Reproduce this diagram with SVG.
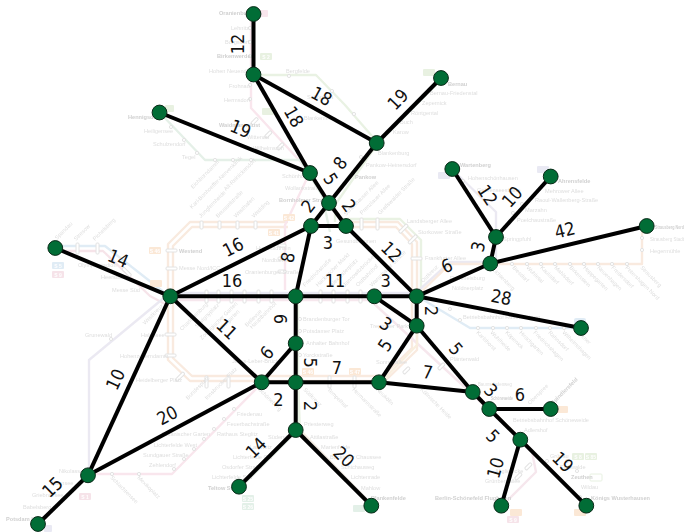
<svg xmlns="http://www.w3.org/2000/svg" width="685" height="532" viewBox="0 0 685 532">
<defs><filter id="soft" x="0" y="0" width="100%" height="100%"><feGaussianBlur stdDeviation="0.35"/></filter></defs>
<style>
.l{font-family:"DejaVu Sans Condensed","DejaVu Sans",sans-serif;font-stretch:condensed;font-size:18px;fill:#111;text-anchor:middle;dominant-baseline:central}
.e{stroke:#000;stroke-width:4;fill:none}
.n{fill:#016d36;stroke:#0a2a18;stroke-width:1}
.m{fill:none;stroke-width:2.4;stroke-linejoin:round}
.s{font-family:"Liberation Sans Narrow","Liberation Sans",sans-serif;font-stretch:condensed;font-size:5.600px;fill:#d8d8d8}
.b{font-family:"Liberation Sans Narrow","Liberation Sans",sans-serif;font-stretch:condensed;font-size:5.600px;fill:#c8c8c8;font-weight:bold}
.t{fill:#fff;stroke:#dedede;stroke-width:1}
.c{fill:#fff;stroke:#dedede;stroke-width:1}
.g{font-family:"Liberation Sans",sans-serif;font-size:5px;font-weight:bold;fill:#fff;text-anchor:middle}
</style>
<g id="map" filter="url(#soft)" opacity="0.85">
<path class="m" stroke="#f8e7da" d="M288 222H190L168 244V360L190 381H385L417 350V242L398 222H346"/>
<path class="m" stroke="#f8e7da" d="M288 227H192L173 246V358L192 376H383L412 348V244L396 227H346"/>
<path class="m" stroke="#e6f0df" d="M347 219H400L421 240V300"/>
<path class="m" stroke="#e6e6f2" d="M170 293H417"/>
<path class="m" stroke="#f5e3ea" d="M170 300H370L470 392L500 420L532 452L536 472L505 503"/>
<path class="m" stroke="#f8ecd9" d="M417 300V345L385 378M375 296H417M470 388L586 505"/>
<path class="m" stroke="#dbe9f4" d="M58 246H105L165 293M417 296L470 328H581"/>
<path class="m" stroke="#f5e0e6" d="M58 251H103L150 296L165 304"/>
<path class="m" stroke="#e8e6f0" d="M165 297L89 360V472M417 292L450 262H496V212L455 172M496 236L551 178"/>
<path class="m" stroke="#f8e7da" d="M417 296L450 264H642V226"/>
<path class="m" stroke="#f8e2ea" d="M251 14V108L310 172L285 225V290M88 474H172L260 385"/>
<path class="m" stroke="#e1eee4" d="M162 115L205 160H300L322 195L330 232M298 300V430L240 488"/>
<path class="m" stroke="#e6f0df" d="M255 75H316L345 105L378 143L335 205V222M298 296V380L300 432L372 505"/>
<path class="m" stroke="#dfeee4" d="M441 80L378 143"/>
<path class="m" stroke="#f2eadf" d="M300 430L372 505"/>
<g>
<circle class="c" cx="250" cy="28" r="1.600"/><circle class="c" cx="250" cy="42" r="1.600"/><circle class="c" cx="250" cy="56" r="1.600"/><circle class="c" cx="250" cy="85" r="1.600"/><circle class="c" cx="250" cy="99" r="1.600"/><circle class="c" cx="289" cy="76" r="1.600"/><circle class="c" cx="332" cy="91" r="1.600"/><circle class="c" cx="171" cy="127" r="1.600"/><circle class="c" cx="184" cy="140" r="1.600"/><circle class="c" cx="197" cy="153" r="1.600"/><circle class="c" cx="215" cy="160" r="1.600"/><circle class="c" cx="233" cy="160" r="1.600"/><circle class="c" cx="251" cy="160" r="1.600"/><circle class="c" cx="354" cy="114" r="1.600"/><circle class="c" cx="361" cy="157" r="1.600"/>
<circle class="c" cx="463" cy="181" r="1.600"/><circle class="c" cx="513" cy="213" r="1.600"/><circle class="c" cx="522" cy="204" r="1.600"/>
<circle class="c" cx="512" cy="264" r="1.600"/><circle class="c" cx="527" cy="264" r="1.600"/><circle class="c" cx="541" cy="264" r="1.600"/><circle class="c" cx="555" cy="264" r="1.600"/><circle class="c" cx="570" cy="264" r="1.600"/><circle class="c" cx="584" cy="264" r="1.600"/><circle class="c" cx="598" cy="264" r="1.600"/><circle class="c" cx="612" cy="264" r="1.600"/><circle class="c" cx="627" cy="264" r="1.600"/><circle class="c" cx="642" cy="238" r="1.600"/><circle class="c" cx="642" cy="250" r="1.600"/>
<circle class="c" cx="450" cy="309" r="1.600"/><circle class="c" cx="460" cy="320" r="1.600"/><circle class="c" cx="478" cy="328" r="1.600"/><circle class="c" cx="493" cy="328" r="1.600"/><circle class="c" cx="507" cy="328" r="1.600"/><circle class="c" cx="521" cy="328" r="1.600"/><circle class="c" cx="536" cy="328" r="1.600"/><circle class="c" cx="550" cy="328" r="1.600"/><circle class="c" cx="564" cy="328" r="1.600"/>
<circle class="c" cx="111" cy="339" r="1.600"/><circle class="c" cx="112" cy="474" r="1.600"/><circle class="c" cx="139" cy="474" r="1.600"/><circle class="c" cx="174" cy="469" r="1.600"/><circle class="c" cx="184" cy="459" r="1.600"/><circle class="c" cx="194" cy="449" r="1.600"/><circle class="c" cx="204" cy="439" r="1.600"/><circle class="c" cx="214" cy="429" r="1.600"/><circle class="c" cx="224" cy="419" r="1.600"/><circle class="c" cx="234" cy="409" r="1.600"/>
<circle class="c" cx="567" cy="461" r="1.600"/><circle class="c" cx="547" cy="461" r="1.600"/><circle class="c" cx="577" cy="471" r="1.600"/><circle class="c" cx="580" cy="497" r="1.600"/>
<circle class="c" cx="300" cy="319" r="1.600"/><circle class="c" cx="300" cy="331" r="1.600"/><circle class="c" cx="300" cy="355" r="1.600"/>
<rect class="t" x="200" y="221" width="3" height="8" rx="1"/><rect class="t" x="218" y="221" width="3" height="8" rx="1"/><rect class="t" x="236" y="221" width="3" height="8" rx="1"/><rect class="t" x="254" y="221" width="3" height="8" rx="1"/>
<rect class="t" x="376" y="218" width="3" height="12" rx="1"/><rect class="t" x="360" y="218" width="3" height="12" rx="1"/><rect class="t" x="166" y="249" width="11" height="3" rx="1"/><rect class="t" x="166" y="267" width="11" height="3" rx="1"/><rect class="t" x="165" y="333" width="11" height="3" rx="1"/><rect class="t" x="165" y="354" width="11" height="3" rx="1"/>
<rect class="t" x="179" y="371" width="3" height="11" rx="1" transform="rotate(45 180 376)"/><rect class="t" x="205" y="376" width="3" height="12" rx="1"/><rect class="t" x="227" y="376" width="3" height="12" rx="1"/><rect class="t" x="353" y="376" width="3" height="12" rx="1"/><rect class="t" x="328" y="376" width="3" height="12" rx="1"/>
<rect class="t" x="402" y="222" width="3" height="11" rx="1" transform="rotate(45 402 228)"/><rect class="t" x="412" y="233" width="3" height="11" rx="1" transform="rotate(45 412 238)"/><rect class="t" x="411" y="257" width="11" height="3" rx="1"/>
<rect class="t" x="205" y="290" width="3" height="13" rx="1"/><rect class="t" x="217" y="290" width="3" height="13" rx="1"/><rect class="t" x="230" y="290" width="3" height="13" rx="1"/><rect class="t" x="243" y="290" width="3" height="13" rx="1"/><rect class="t" x="257" y="290" width="3" height="13" rx="1"/><rect class="t" x="270" y="290" width="3" height="13" rx="1"/><rect class="t" x="319" y="290" width="3" height="13" rx="1"/><rect class="t" x="332" y="290" width="3" height="13" rx="1"/><rect class="t" x="346" y="290" width="3" height="13" rx="1"/><rect class="t" x="359" y="290" width="3" height="13" rx="1"/>
<rect class="t" x="76" y="243" width="3" height="11" rx="1"/><rect class="t" x="96" y="243" width="3" height="11" rx="1"/><rect class="t" x="125" y="267" width="3" height="11" rx="1" transform="rotate(-45 126 272)"/>
<rect class="t" x="278" y="244" width="8" height="3" rx="1"/><rect class="t" x="278" y="257" width="8" height="3" rx="1"/><rect class="t" x="278" y="270" width="8" height="3" rx="1"/>
<rect class="t" x="254" y="117" width="3" height="8" rx="1" transform="rotate(45 255 120)"/><rect class="t" x="267" y="130" width="3" height="8" rx="1" transform="rotate(45 268 134)"/><rect class="t" x="279" y="142" width="3" height="8" rx="1" transform="rotate(45 280 146)"/>
<rect class="t" x="405" y="366" width="3" height="8" rx="1" transform="rotate(45 406 370)"/><rect class="t" x="440" y="362" width="3" height="8" rx="1" transform="rotate(45 441 366)"/>
<rect class="t" x="517" y="472" width="3" height="8" rx="1" transform="rotate(45 518 476)"/><rect class="t" x="527" y="462" width="3" height="8" rx="1" transform="rotate(45 528 466)"/>
</g>
<g>
<rect x="260" y="10" width="8" height="7" rx="1" fill="#f8e2ea"/>
<g fill="#e4efdc"><rect x="260" y="53" width="12" height="7" rx="1"/><rect x="262" y="108" width="12" height="7" rx="1"/><rect x="165" y="105" width="9" height="7" rx="1"/><rect x="423" y="69" width="12" height="7" rx="1"/></g>
<g fill="#fbe4d0"><rect x="149" y="247" width="12" height="7" rx="1"/><rect x="283" y="214" width="12" height="7" rx="1"/><rect x="268" y="229" width="12" height="7" rx="1"/><rect x="150" y="280" width="12" height="7" rx="1"/><rect x="302" y="368" width="12" height="7" rx="1"/><rect x="349" y="368" width="12" height="7" rx="1"/><rect x="556" y="406" width="12" height="7" rx="1"/><rect x="510" y="509" width="12" height="7" rx="1"/><rect x="574" y="509" width="12" height="7" rx="1"/></g>
<rect x="52" y="262" width="12" height="7" rx="1" fill="#dbe9f4"/>
<rect x="52" y="271" width="12" height="7" rx="1" fill="#f5dfe6"/>
<g fill="#e6e6f2"><rect x="438" y="172" width="12" height="7" rx="1"/><rect x="537" y="166" width="12" height="7" rx="1"/><rect x="44" y="525" width="8" height="7" rx="1"/></g>
<rect x="79" y="493" width="12" height="7" rx="1" fill="#f5dfe6"/>
<rect x="507" y="516" width="12" height="7" rx="1" fill="#f5dfe6"/>
<g fill="#dfeee4"><rect x="242" y="495" width="12" height="7" rx="1"/><rect x="242" y="503" width="12" height="7" rx="1"/><rect x="353" y="505" width="12" height="7" rx="1"/></g>
<g fill="#e4efdc"><rect x="572" y="453" width="12" height="7" rx="1"/><rect x="585" y="453" width="12" height="7" rx="1"/></g>
<rect x="590" y="474" width="12" height="7" rx="1" fill="#fff" stroke="#e4efdc"/>
<rect x="574" y="318" width="12" height="10" rx="2" fill="#dbe9f4"/>
<text class="g" x="155" y="252.500">S 46</text><text class="g" x="289" y="219.500">S 42</text><text class="g" x="274" y="234.500">S 41</text><text class="g" x="266" y="58.500">S 2</text><text class="g" x="58" y="267.500">S 5</text><text class="g" x="58" y="276.500">S 9</text><text class="g" x="85" y="498.500">S 1</text><text class="g" x="248" y="500.500">S 25</text><text class="g" x="248" y="508.500">S 26</text><text class="g" x="308" y="373.500">S 46</text><text class="g" x="355" y="373.500">S 47</text><text class="g" x="513" y="521.500">S 9</text><text class="g" x="578" y="458.500">S 8</text><text class="g" x="591" y="458.500">S 85</text>
</g>
<g>
<text class="b" x="219" y="15">Oranienburg</text><text class="s" x="231" y="30">Lehnitz</text><text class="s" x="225" y="44">Borgsdorf</text><text class="b" x="217" y="58">Birkenwerder</text><text class="s" x="209" y="73">Hohen Neuendorf</text><text class="s" x="286" y="73">Bergfelde</text><text class="s" x="229" y="88">Frohnau</text><text class="s" x="224" y="102">Hermsdorf</text><text class="s" x="307" y="99">Schönfließ</text><text class="b" x="219" y="127">Waidmannslust</text><text class="s" x="247" y="139">Wittenau</text><text class="s" x="253" y="150">Wilhelmsruh</text><text class="b" x="128" y="119">Hennigsdorf</text><text class="s" x="144" y="133">Heiligensee</text><text class="s" x="153" y="146">Schulzendorf</text><text class="s" x="182" y="159">Tegel</text><text class="s" x="282" y="178">Schönholz</text><text class="s" x="285" y="190">Wollankstraße</text><text class="b" x="279" y="202">Bornholmer Straße</text><text class="s" x="304" y="120">Blankenfelde</text>
<text class="s" x="378" y="155">Blankenburg</text><text class="s" x="366" y="167">Pankow-Heinersdorf</text><text class="b" x="355" y="179">Pankow</text><text class="s" x="393" y="134">Karow</text><text class="s" x="400" y="124">Buch</text><text class="s" x="411" y="115">Röntgental</text><text class="s" x="422" y="105">Zepernick</text><text class="s" x="430" y="95">Bernau-Friedenstal</text><text class="b" x="448" y="86">Bernau</text>
<text class="b" x="460" y="167">Wartenberg</text><text class="s" x="468" y="180">Hohenschönhausen</text><text class="s" x="477" y="192">Gehrenseestraße</text><text class="b" x="558" y="183">Ahrensfelde</text><text class="s" x="545" y="193">Mehrower Allee</text><text class="s" x="535" y="202">Raoul-Wallenberg-Straße</text><text class="s" x="525" y="212">Marzahn</text><text class="s" x="517" y="222">Poelchaustraße</text><text class="s" x="503" y="241">Springpfuhl</text><text class="b" x="655" y="229" textLength="29" lengthAdjust="spacingAndGlyphs">Strausberg Nord</text><text class="s" x="650" y="241" textLength="34" lengthAdjust="spacingAndGlyphs">Strausberg Stadt</text><text class="s" x="650" y="253">Hegermühle</text>
<text class="s" x="407" y="223">Landsberger Allee</text><text class="s" x="418" y="234">Storkower Straße</text><text class="s" x="425" y="260">Frankfurter Allee</text><text class="s" x="450" y="280">Rummelsburg</text><text class="s" x="452" y="290">Nöldnerplatz</text><text class="s" x="463" y="319">Betriebsbahnhof Rummelsburg</text>
<text class="b" x="179" y="253">Westend</text><text class="s" x="179" y="270">Messe Nord/ICC</text><text class="s" x="112" y="292">Messe Süd</text><text class="s" x="101" y="279">Heerstraße</text><text class="s" x="78" y="267">Olympiastadion</text><text class="s" x="336" y="243">Gesundbrunnen</text><text class="s" x="256" y="250">Humboldthain</text><text class="s" x="262" y="262">Nordbahnhof</text><text class="s" x="245" y="274">Oranienburger Straße</text>
<text class="s" x="85" y="337">Grunewald</text><text class="s" x="141" y="337">Halensee</text><text class="s" x="120" y="358">Hohenzollerndamm</text><text class="s" x="136" y="382">Heidelberger Platz</text><text class="s" x="232" y="363">Julius-Leber-Brücke</text><text class="s" x="237" y="416">Friedenau</text><text class="s" x="227" y="426">Feuerbachstraße</text><text class="s" x="217" y="436">Rathaus Steglitz</text><text class="s" x="162" y="436">Botanischer Garten</text><text class="s" x="154" y="447">Lichterfelde West</text><text class="s" x="143" y="457">Sundgauer Straße</text><text class="s" x="149" y="467">Zehlendorf</text><text class="s" x="59" y="473">Nikolassee</text><text class="s" x="50" y="485">Wannsee</text><text class="s" x="32" y="497">Griebnitzsee</text><text class="s" x="23" y="509">Babelsberg</text><text class="b" x="6" y="521">Potsdam Hbf</text>
<text class="b" x="208" y="490">Teltow Stadt</text><text class="s" x="212" y="479">Lichterfelde Süd</text><text class="s" x="222" y="469">Osdorfer Straße</text><text class="s" x="233" y="459">Lichterfelde Ost</text><text class="s" x="268" y="439">Südende</text><text class="s" x="250" y="449">Lankwitz</text><text class="s" x="304" y="426">Priesterweg</text><text class="s" x="310" y="439">Attilastraße</text><text class="s" x="321" y="449">Marienfelde</text><text class="s" x="330" y="459">Buckower Chaussee</text><text class="s" x="341" y="469">Schichauweg</text><text class="s" x="351" y="479">Lichtenrade</text><text class="s" x="361" y="490">Mahlow</text><text class="b" x="371" y="500">Blankenfelde</text>
<text class="s" x="303" y="321">Brandenburger Tor</text><text class="s" x="303" y="333">Potsdamer Platz</text><text class="s" x="306" y="345">Anhalter Bahnhof</text><text class="s" x="303" y="357">Yorckstraße</text><text class="s" x="370" y="328">Treptower Park</text><text class="s" x="376" y="364">Sonnenallee</text><text class="s" x="450" y="361">Plänterwald</text><text class="s" x="478" y="386" textLength="34" lengthAdjust="spacingAndGlyphs">Baumschulenweg</text><text class="b" x="491" y="400" textLength="22" lengthAdjust="spacingAndGlyphs">Schöneweide</text><text class="s" x="513" y="422">Betriebsbahnhof Schöneweide</text><text class="s" x="524" y="432">Adlershof</text><text class="s" x="550" y="458">Grünau</text><text class="s" x="560" y="469">Eichwalde</text><text class="b" x="571" y="479">Zeuthen</text><text class="s" x="581" y="489">Wildau</text><text class="b" x="591" y="500">Königs Wusterhausen</text><text class="s" x="495" y="473">Altglienicke</text><text class="s" x="485" y="483">Grünbergallee</text><text class="b" x="435" y="500">Berlin-Schönefeld Flughafen</text>
</g>
<g>
<text class="s" transform="rotate(-45 193 189)" x="193" y="189">Eichborndamm</text><text class="s" transform="rotate(-45 192 209)" x="192" y="209">Karl-Bonhoeffer-Nervenklinik</text><text class="s" transform="rotate(-45 226 191)" x="226" y="191">Alt-Reinickendorf</text><text class="s" transform="rotate(-45 201 218)" x="201" y="218">Jungfernheide</text><text class="s" transform="rotate(-45 218 218)" x="218" y="218">Beusselstraße</text><text class="s" transform="rotate(-45 236 218)" x="236" y="218">Westhafen</text><text class="s" transform="rotate(-45 254 218)" x="254" y="218">Wedding</text>
<text class="s" transform="rotate(-45 346 216)" x="346" y="216">Schönhauser Allee</text><text class="s" transform="rotate(-45 362 215)" x="362" y="215">Prenzlauer Allee</text><text class="s" transform="rotate(-45 380 215)" x="380" y="215">Greifswalder Straße</text><text class="s" transform="rotate(-45 57 240)" x="57" y="240">Spandau</text><text class="s" transform="rotate(-45 76 241)" x="76" y="241">Stresow</text><text class="s" transform="rotate(-45 95 241)" x="95" y="241">Pichelsberg</text>
<text class="s" transform="rotate(-45 182 331)" x="182" y="331">Charlottenburg</text><text class="s" transform="rotate(-45 197 328)" x="197" y="328">Savignyplatz</text><text class="s" transform="rotate(-45 202 340)" x="202" y="340">Zoologischer Garten</text><text class="s" transform="rotate(-45 222 330)" x="222" y="330">Tiergarten</text><text class="s" transform="rotate(-45 247 327)" x="247" y="327">Bellevue</text><text class="s" transform="rotate(-45 252 329)" x="252" y="329">Hauptbahnhof</text>
<text class="s" transform="rotate(-45 305 287)" x="305" y="287">Friedrichstraße</text><text class="s" transform="rotate(-45 318 287)" x="318" y="287">Hackescher Markt</text><text class="s" transform="rotate(-45 332 287)" x="332" y="287">Alexanderplatz</text><text class="s" transform="rotate(-45 345 287)" x="345" y="287">Jannowitzbrücke</text><text class="s" transform="rotate(-45 358 287)" x="358" y="287">Ostbahnhof</text><text class="s" transform="rotate(-45 372 287)" x="372" y="287">Warschauer Straße</text><text class="s" transform="rotate(-45 423 283)" x="423" y="283">Ostkreuz</text><text class="s" transform="rotate(-45 145 325)" x="145" y="325">Westkreuz</text><text class="s" transform="rotate(-45 188 400)" x="188" y="400">Bundesplatz</text><text class="s" transform="rotate(-45 207 400)" x="207" y="400">Innsbrucker Platz</text><text class="s" transform="rotate(-45 530 405)" x="530" y="405">Oberspree</text><text class="b" transform="rotate(-45 553 405)" x="553" y="405">Spindlersfeld</text>
<text class="s" transform="rotate(45 476 333)" x="476" y="333">Karlshorst</text><text class="s" transform="rotate(45 490 333)" x="490" y="333">Wuhlheide</text><text class="s" transform="rotate(45 505 333)" x="505" y="333">Köpenick</text><text class="s" transform="rotate(45 519 333)" x="519" y="333">Hirschgarten</text><text class="s" transform="rotate(45 533 333)" x="533" y="333">Friedrichshagen</text><text class="s" transform="rotate(45 548 333)" x="548" y="333">Rahnsdorf</text><text class="s" transform="rotate(45 562 333)" x="562" y="333">Wilhelmshagen</text><text class="s" transform="rotate(45 577 333)" x="577" y="333">Erkner</text>
<text class="s" transform="rotate(45 492 270)" x="492" y="270">Lichtenberg</text><text class="s" transform="rotate(45 512 268)" x="512" y="268">Biesdorf</text><text class="s" transform="rotate(45 526 268)" x="526" y="268">Wuhletal</text><text class="s" transform="rotate(45 540 268)" x="540" y="268">Kaulsdorf</text><text class="s" transform="rotate(45 554 268)" x="554" y="268">Mahlsdorf</text><text class="s" transform="rotate(45 569 268)" x="569" y="268">Birkenstein</text><text class="s" transform="rotate(45 583 268)" x="583" y="268">Hoppegarten</text><text class="s" transform="rotate(45 597 268)" x="597" y="268">Neuenhagen</text><text class="s" transform="rotate(45 611 268)" x="611" y="268">Fredersdorf</text><text class="s" transform="rotate(45 625 268)" x="625" y="268">Petershagen Nord</text><text class="s" transform="rotate(45 640 268)" x="640" y="268">Strausberg</text>
<text class="s" transform="rotate(45 110 478)" x="110" y="478">Schlachtensee</text><text class="s" transform="rotate(45 137 478)" x="137" y="478">Mexikoplatz</text><text class="s" transform="rotate(45 258 390)" x="258" y="390">Schöneberg</text><text class="s" transform="rotate(45 303 390)" x="303" y="390">Südkreuz</text><text class="s" transform="rotate(45 327 390)" x="327" y="390">Tempelhof</text><text class="s" transform="rotate(45 352 390)" x="352" y="390">Hermannstraße</text><text class="s" transform="rotate(45 376 390)" x="376" y="390">Neukölln</text><text class="s" transform="rotate(45 420 390)" x="420" y="390">Köllnische Heide</text>
</g>
</g>
<g id="connectors">
<path class="e" d="M253.500 14V74.500"/>
<path class="e" d="M253.500 74.500L310 173"/>
<path class="e" d="M253.500 74.500L376.700 143"/>
<path class="e" d="M376.700 143L441 78"/>
<path class="e" d="M376.700 143L329 203"/>
<path class="e" d="M159.500 112.500L310 173"/>
<path class="e" d="M310 173L329 203"/>
<path class="e" d="M329 203L311 226"/>
<path class="e" d="M329 203L346 226"/>
<path class="e" d="M311 226H346"/>
<path class="e" d="M311 226L295.700 296.300"/>
<path class="e" d="M311 226L170.300 296.300"/>
<path class="e" d="M170.300 296.300H416.700"/>
<path class="e" d="M346 226L416.700 296.300"/>
<path class="e" d="M416.700 296.300L490.300 263.500"/>
<path class="e" d="M490.300 263.500L496 237"/>
<path class="e" d="M496 237L452.300 169"/>
<path class="e" d="M496 237L550.700 176.500"/>
<path class="e" d="M490.300 263.500L646.700 226"/>
<path class="e" d="M416.700 296.300L581 328"/>
<path class="e" d="M416.700 296.300V325.700"/>
<path class="e" d="M374.300 296.300L416.700 325.700"/>
<path class="e" d="M416.700 325.700L379 382.300"/>
<path class="e" d="M416.700 325.700L472.700 392"/>
<path class="e" d="M379 382.300L472.700 392"/>
<path class="e" d="M472.700 392L489.300 409"/>
<path class="e" d="M489.300 409H550.700"/>
<path class="e" d="M489.300 409L520.300 439.700"/>
<path class="e" d="M520.300 439.700L501.300 505.700"/>
<path class="e" d="M520.300 439.700L586.300 505.700"/>
<path class="e" d="M170.300 296.300L55.300 248"/>
<path class="e" d="M170.300 296.300L88 475.300"/>
<path class="e" d="M170.300 296.300L261.700 382.300"/>
<path class="e" d="M261.700 382.300L88 475.300"/>
<path class="e" d="M88 475.300L38 524"/>
<path class="e" d="M295.700 296.300V430"/>
<path class="e" d="M261.700 382.300L295.700 343.300"/>
<path class="e" d="M261.700 382.300H379"/>
<path class="e" d="M295.700 430L239 486.700"/>
<path class="e" d="M295.700 430L371.300 505.700"/>
</g>
<g id="labels">
<text class="l" transform="translate(237.700 44) rotate(-90)">12</text>
<text class="l" transform="translate(321.700 96) rotate(29)">18</text>
<text class="l" transform="translate(294 116.700) rotate(60)">18</text>
<text class="l" transform="translate(240.700 128.700) rotate(22)">19</text>
<text class="l" transform="translate(397.700 99.300) rotate(-46)">19</text>
<text class="l" transform="translate(340 163) rotate(-52)">8</text>
<text class="l" transform="translate(330.700 179) rotate(58)">5</text>
<text class="l" transform="translate(308 206) rotate(-52)">2</text>
<text class="l" transform="translate(349 205.700) rotate(54)">2</text>
<text class="l" transform="translate(328 242)">3</text>
<text class="l" transform="translate(287.700 257.300) rotate(-78)">8</text>
<text class="l" transform="translate(233 247) rotate(-27)">16</text>
<text class="l" transform="translate(232 280)">16</text>
<text class="l" transform="translate(335 280.700)">11</text>
<text class="l" transform="translate(385.700 280.700)">3</text>
<text class="l" transform="translate(391.700 251.700) rotate(45)">12</text>
<text class="l" transform="translate(446.700 265.700) rotate(-24)">6</text>
<text class="l" transform="translate(478 246.700) rotate(-78)">3</text>
<text class="l" transform="translate(487.700 195) rotate(57)">12</text>
<text class="l" transform="translate(512 196.700) rotate(-48)">10</text>
<text class="l" transform="translate(564.700 230) rotate(-13)">42</text>
<text class="l" transform="translate(501.300 297) rotate(11)">28</text>
<text class="l" transform="translate(431.500 311) rotate(90)">2</text>
<text class="l" transform="translate(386 324) rotate(35)">3</text>
<text class="l" transform="translate(385 345) rotate(-56)">5</text>
<text class="l" transform="translate(456 348.700) rotate(50)">5</text>
<text class="l" transform="translate(427.700 372) rotate(6)">7</text>
<text class="l" transform="translate(491 390.300) rotate(46)">3</text>
<text class="l" transform="translate(520 394)">6</text>
<text class="l" transform="translate(493 436) rotate(45)">5</text>
<text class="l" transform="translate(495.300 467.700) rotate(-74)">10</text>
<text class="l" transform="translate(563 462) rotate(45)">19</text>
<text class="l" transform="translate(118.300 258.300) rotate(23)">14</text>
<text class="l" transform="translate(115.300 379.300) rotate(-65)">10</text>
<text class="l" transform="translate(167.300 415.300) rotate(-28)">20</text>
<text class="l" transform="translate(52.300 487) rotate(-44)">15</text>
<text class="l" transform="translate(227 329) rotate(43)">11</text>
<text class="l" transform="translate(266.700 352.700) rotate(-49)">6</text>
<text class="l" transform="translate(280.700 319) rotate(90)">6</text>
<text class="l" transform="translate(310.700 362.700) rotate(90)">5</text>
<text class="l" transform="translate(337 367)">7</text>
<text class="l" transform="translate(278.300 399.300)">2</text>
<text class="l" transform="translate(310 406) rotate(90)">2</text>
<text class="l" transform="translate(256 447.700) rotate(-45)">14</text>
<text class="l" transform="translate(344 456.700) rotate(45)">20</text>
</g>
<g id="n-oranienburg"><circle class="n" cx="253.500" cy="14" r="7.400"/></g>
<g id="n-hohen-neuendorf"><circle class="n" cx="253.500" cy="74.500" r="7.400"/></g>
<g id="n-hennigsdorf"><circle class="n" cx="159.500" cy="112.500" r="7.400"/></g>
<g id="n-schoenhauser"><circle class="n" cx="310" cy="173" r="7.400"/></g>
<g id="n-bornholmer"><circle class="n" cx="329" cy="203" r="7.400"/></g>
<g id="n-gesundbrunnen"><circle class="n" cx="311" cy="226" r="7.400"/></g>
<g id="n-ring-ne"><circle class="n" cx="346" cy="226" r="7.400"/></g>
<g id="n-blankenburg"><circle class="n" cx="376.700" cy="143" r="7.400"/></g>
<g id="n-bernau"><circle class="n" cx="441" cy="78" r="7.400"/></g>
<g id="n-wartenberg"><circle class="n" cx="452.300" cy="169" r="7.400"/></g>
<g id="n-ahrensfelde"><circle class="n" cx="550.700" cy="176.500" r="7.400"/></g>
<g id="n-springpfuhl"><circle class="n" cx="496" cy="237" r="7.400"/></g>
<g id="n-lichtenberg"><circle class="n" cx="490.300" cy="263.500" r="7.400"/></g>
<g id="n-strausberg"><circle class="n" cx="646.700" cy="226" r="7.400"/></g>
<g id="n-spandau"><circle class="n" cx="55.300" cy="248" r="7.400"/></g>
<g id="n-westkreuz"><circle class="n" cx="170.300" cy="296.300" r="7.400"/></g>
<g id="n-friedrichstrasse"><circle class="n" cx="295.700" cy="296.300" r="7.400"/></g>
<g id="n-warschauer"><circle class="n" cx="374.300" cy="296.300" r="7.400"/></g>
<g id="n-ostkreuz"><circle class="n" cx="416.700" cy="296.300" r="7.400"/></g>
<g id="n-treptower"><circle class="n" cx="416.700" cy="325.700" r="7.400"/></g>
<g id="n-wannsee"><circle class="n" cx="88" cy="475.300" r="7.400"/></g>
<g id="n-potsdam"><circle class="n" cx="38" cy="524" r="7.400"/></g>
<g id="n-anhalter"><circle class="n" cx="295.700" cy="343.300" r="7.400"/></g>
<g id="n-schoeneberg"><circle class="n" cx="261.700" cy="382.300" r="7.400"/></g>
<g id="n-suedkreuz"><circle class="n" cx="295.700" cy="382.300" r="7.400"/></g>
<g id="n-priesterweg"><circle class="n" cx="295.700" cy="430" r="7.400"/></g>
<g id="n-teltow"><circle class="n" cx="239" cy="486.700" r="7.400"/></g>
<g id="n-blankenfelde"><circle class="n" cx="371.300" cy="505.700" r="7.400"/></g>
<g id="n-neukoelln"><circle class="n" cx="379" cy="382.300" r="7.400"/></g>
<g id="n-baumschulenweg"><circle class="n" cx="472.700" cy="392" r="7.400"/></g>
<g id="n-schoeneweide"><circle class="n" cx="489.300" cy="409" r="7.400"/></g>
<g id="n-spindlersfeld"><circle class="n" cx="550.700" cy="409" r="7.400"/></g>
<g id="n-adlershof"><circle class="n" cx="520.300" cy="439.700" r="7.400"/></g>
<g id="n-flughafen"><circle class="n" cx="501.300" cy="505.700" r="7.400"/></g>
<g id="n-koenigs-wusterhausen"><circle class="n" cx="586.300" cy="505.700" r="7.400"/></g>
<g id="n-erkner"><circle class="n" cx="581" cy="328" r="7.400"/></g>
</svg>
